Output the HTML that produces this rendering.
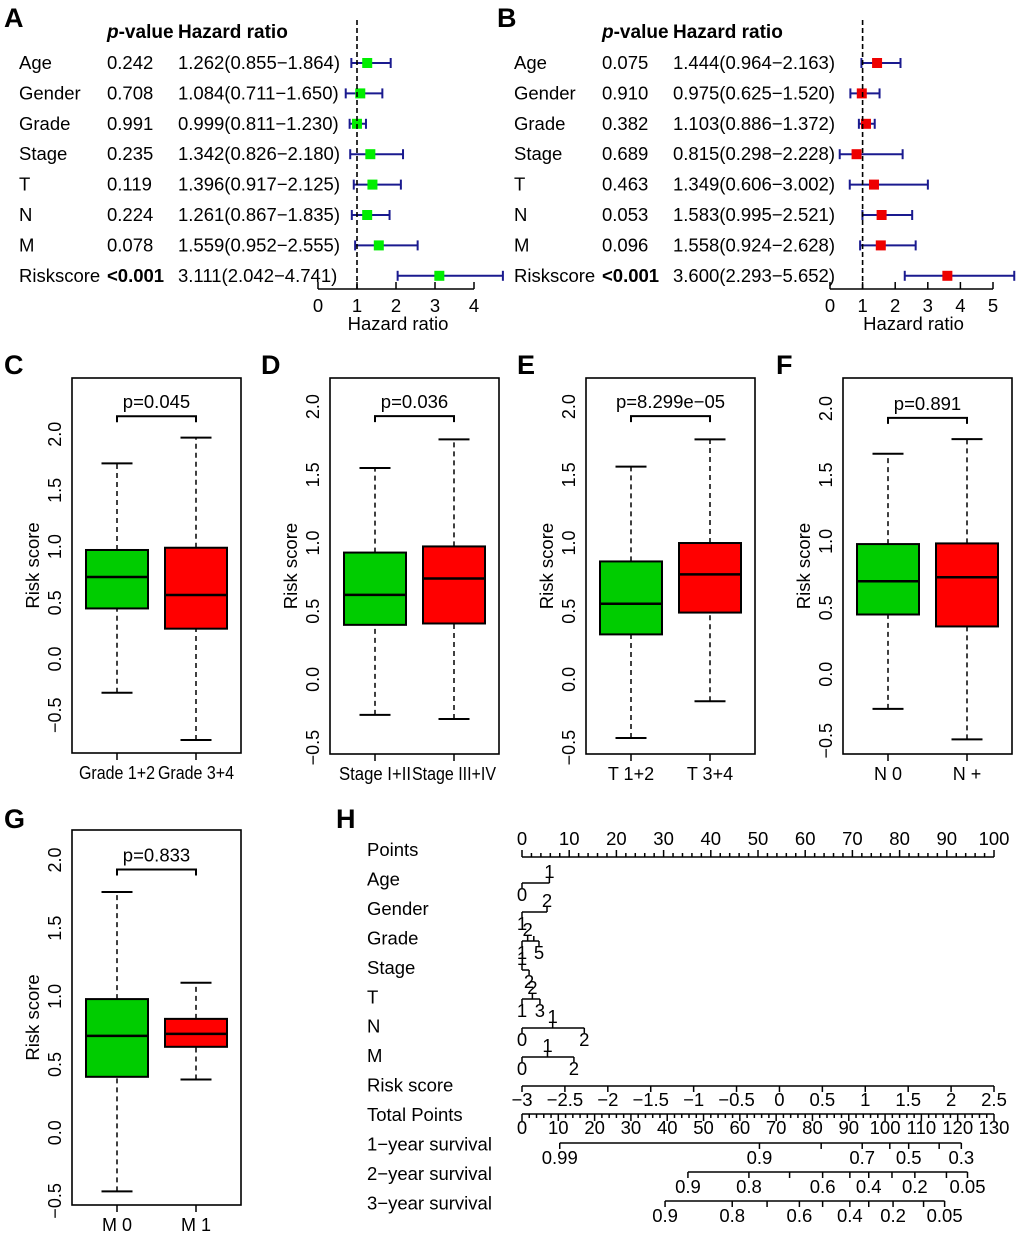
<!DOCTYPE html>
<html><head><meta charset="utf-8"><style>
html,body{margin:0;padding:0;background:#fff;}
svg{display:block;font-family:"Liberation Sans",Arial,sans-serif;}
</style></head><body>
<svg id="fig" width="1020" height="1239" viewBox="0 0 1020 1239" xmlns="http://www.w3.org/2000/svg"></svg>
<script>
// ---- Forest plot data ----
const forestVars = ["Age","Gender","Grade","Stage","T","N","M","Riskscore"];
const pA = ["0.242","0.708","0.991","0.235","0.119","0.224","0.078","<0.001"];
const hrA = [1.262,1.084,0.999,1.342,1.396,1.261,1.559,3.111];
const loA = [0.855,0.711,0.811,0.826,0.917,0.867,0.952,2.042];
const hiA = [1.864,1.650,1.230,2.180,2.125,1.835,2.555,4.741];
const pB = ["0.075","0.910","0.382","0.689","0.463","0.053","0.096","<0.001"];
const hrB = [1.444,0.975,1.103,0.815,1.349,1.583,1.558,3.600];
const loB = [0.964,0.625,0.886,0.298,0.606,0.995,0.924,2.293];
const hiB = [2.163,1.520,1.372,2.228,3.002,2.521,2.628,5.652];
const ticksA = [0,1,2,3,4];
const ticksB = [0,1,2,3,4,5];
// ---- Boxplot data: [whiskerLow, q1, median, q3, whiskerHigh] ----
const boxC = [[-0.30,0.45,0.73,0.97,1.74],[-0.72,0.27,0.57,0.99,1.97]];
const boxD = [[-0.26,0.40,0.62,0.93,1.55],[-0.29,0.41,0.74,0.975,1.76]];
const boxE = [[-0.43,0.33,0.555,0.865,1.56],[-0.16,0.49,0.77,1.00,1.76]];
const boxF = [[-0.26,0.45,0.70,0.98,1.66],[-0.49,0.36,0.73,0.985,1.77]];
const boxG = [[-0.43,0.41,0.71,0.98,1.765],[0.39,0.63,0.725,0.835,1.10]];
const boxTicks = [-0.5,0.0,0.5,1.0,1.5,2.0];
// ---- Nomogram data (positions in points / total points) ----
const pointTicks = [0,10,20,30,40,50,60,70,80,90,100];
const nomoVars = ["Age","Gender","Grade","Stage","T","N","M"];
const nomoPts = [[0,5.8],[0,5.3],[0,1.2,2.5,3.6],[0,1.5],[0,2.2,3.8],[0,6.5,13.2],[0,5.4,11]];
const nomoLbl = [["0","1"],["1","2"],["1","2","","5"],["1","2"],["1","2","3"],["0","1","2"],["0","1","2"]];
const nomoSide = [[1,-1],[1,-1],[1,-1,0,1],[-1,1],[1,-1,1],[1,-1,1],[1,-1,1]];
const riskTicks = [-3,-2.5,-2,-1.5,-1,-0.5,0,0.5,1,1.5,2,2.5];
const totalTicks = [0,10,20,30,40,50,60,70,80,90,100,110,120,130];
const surv1Pos = [10.4,65.4,82.4,93.7,101.3,106.5,114.9,121];
const surv1Lbl = ["0.99","0.9","","0.7","","0.5","","0.3"];
const surv2Pos = [45.7,62.5,73.7,82.8,90.3,95.5,101.9,108.2,116.9,122.7];
const surv2Lbl = ["0.9","0.8","","0.6","","0.4","","0.2","","0.05"];
const surv3Pos = [39.4,57.9,67.5,76.4,82.8,90.3,95.5,102.2,110.6,116.4];
const surv3Lbl = ["0.9","0.8","","0.6","","0.4","","0.2","","0.05"];

const svg = document.getElementById('fig');
const NS = 'http://www.w3.org/2000/svg';
const FS = 18.5;
function el(tag, attrs, parent){const e=document.createElementNS(NS,tag);for(const k in attrs)e.setAttribute(k,attrs[k]);(parent||svg).appendChild(e);return e;}
function txt(s,x,y,attrs,parent){const e=el('text',Object.assign({x:x,y:y,'font-size':FS,fill:'#000'},attrs||{}),parent);e.textContent=s;return e;}
function line(x1,y1,x2,y2,attrs,parent){return el('line',Object.assign({x1:x1,y1:y1,x2:x2,y2:y2,stroke:'#000','stroke-width':1.5},attrs||{}),parent);}

function panelLetter(s,x,y){const t=txt(s,x,y,{'font-size':27,'font-weight':'bold'});}

// ---- Forest ----
function forest(g,ox,pv,hr,lo,hi,ticks,x0,x1,color){
  const sx = v => x0 + v*(x1-x0);
  const rowY = i => 63 + i*30.4;
  const head = txt('',ox+107,38,{'font-weight':'bold','font-size':19},g);
  
  
  const ts=el('tspan',{'font-style':'italic'},head);ts.textContent='p';
  const ts2=el('tspan',{},head);ts2.textContent='-value';
  const h2=txt('Hazard ratio',ox+178,38,{'font-weight':'bold','font-size':19},g);
  
  
  for(let i=0;i<forestVars.length;i++){
    const y=rowY(i);
    const rg=el('g',{},g);
    
    
    txt(forestVars[i],ox+19,y+6,{},rg);
    txt(pv[i],ox+107,y+6,pv[i][0]==='<'?{'font-weight':'bold'}:{},rg);
    txt(hr[i].toFixed(3)+'('+lo[i].toFixed(3)+'\u2212'+hi[i].toFixed(3)+')',ox+178,y+6,{},rg);
    const c='#1a1a8f';
    line(sx(lo[i]),y,sx(hi[i]),y,{stroke:c,'stroke-width':2},rg);
    line(sx(lo[i]),y-5,sx(lo[i]),y+5,{stroke:c,'stroke-width':2},rg);
    line(sx(hi[i]),y-5,sx(hi[i]),y+5,{stroke:c,'stroke-width':2},rg);
    const sq=el('rect',{x:sx(hr[i])-5,y:y-5,width:10,height:10,fill:color},rg);
    
    
  }
  const ref=line(sx(1),20,sx(1),289,{'stroke-dasharray':'5,3','stroke-width':1.6},g);
  
  
  const ax=el('g',{},g);
  
  
  line(sx(ticks[0]),289,sx(ticks[ticks.length-1]),289,{},ax);
  ticks.forEach(t=>{line(sx(t),289,sx(t),282,{},ax);txt(String(t),sx(t),312,{'text-anchor':'middle'},ax);});
  const xt=txt('Hazard ratio',(sx(0)+sx(ticks[ticks.length-1]))/2+2,330,{'text-anchor':'middle'},g);
  
  
}
const gA=el('g',{});
forest(gA,0,pA,hrA,loA,hiA,ticksA,318,357,'#00ee00');
const gB=el('g',{});
forest(gB,495,pB,hrB,loB,hiB,ticksB,830,862.6,'#ee0000');
panelLetter('A',4,27);panelLetter('B',497,27);

// ---- Boxplots ----
function boxplot(name,fx0,fy0,fy1,yTop,yBot,data,cats,pLabel,bracket,catW){
  const g=el('g',{});
  
  
  const sy=v=>fy0+(yTop-v)/(yTop-yBot)*(fy1-fy0);
  const centers=[fx0+45,fx0+124];
  const cols=['#00cc00','#ff0000'];
  data.forEach((d,i)=>{
    const cx=centers[i];
    const bg=el('g',{},g);
    
    
    line(cx,sy(d[0]),cx,sy(d[1]),{'stroke-dasharray':'5,4'},bg);
    line(cx,sy(d[3]),cx,sy(d[4]),{'stroke-dasharray':'5,4'},bg);
    line(cx-15.5,sy(d[0]),cx+15.5,sy(d[0]),{'stroke-width':2},bg);
    line(cx-15.5,sy(d[4]),cx+15.5,sy(d[4]),{'stroke-width':2},bg);
    el('rect',{x:cx-31,y:sy(d[3]),width:62,height:sy(d[1])-sy(d[3]),fill:cols[i],stroke:'#000','stroke-width':2},bg);
    line(cx-31,sy(d[2]),cx+31,sy(d[2]),{'stroke-width':2.5},bg);
    line(cx,fy1,cx,fy1+7,{},bg);
    const la={'text-anchor':'middle','font-size':18};
    if(catW){la.textLength=catW[i];la.lengthAdjust='spacingAndGlyphs';}
    txt(cats[i],cx,fy1+26,la,bg);
  });
  const fr=el('rect',{x:fx0,y:fy0,width:169,height:fy1-fy0,fill:'none',stroke:'#000','stroke-width':1.6},g);
  
  
  const yg=el('g',{},g);
  
  
  boxTicks.forEach(t=>{const y=sy(t);txt(t.toFixed(1).replace('-','\u2212'),fx0-11,y,{'text-anchor':'middle','font-size':18,transform:`rotate(-90 ${fx0-11} ${y})`},yg);});
  const yt=txt('Risk score',fx0-33,(fy0+fy1)/2,{'text-anchor':'middle','font-size':18.5,transform:`rotate(-90 ${fx0-33} ${(fy0+fy1)/2})`},g);
  
  
  const by=sy(bracket);
  const br=el('path',{d:`M${centers[0]},${by+6}V${by}H${centers[1]}V${by+6}`,fill:'none',stroke:'#000','stroke-width':2},g);
  
  
  const pt=txt(pLabel,(centers[0]+centers[1])/2,by-8,{'text-anchor':'middle','font-size':18.5},g);
  
  
}
boxplot('boxplot-grade',72,378,753,2.5,-0.836,boxC,['Grade 1+2','Grade 3+4'],'p=0.045',2.16,[76,76]);
boxplot('boxplot-stage',330,378,754,2.21,-0.547,boxD,['Stage I+II','Stage III+IV'],'p=0.036',1.93,[72,84]);
boxplot('boxplot-t',586,378,754,2.21,-0.547,boxE,['T 1+2','T 3+4'],'p=8.299e\u221205',1.93,null);
boxplot('boxplot-n',843,378,754,2.23,-0.6,boxF,['N 0','N +'],'p=0.891',1.93,null);
boxplot('boxplot-m',72,830,1205,2.22,-0.53,boxG,['M 0','M 1'],'p=0.833',1.93,null);
panelLetter('C',4,374);panelLetter('D',261,374);panelLetter('E',517,374);panelLetter('F',776,374);panelLetter('G',4,828);panelLetter('H',336,828);

// ---- Nomogram ----
const NF = 18.5;
const gH=el('g',{});
const px=p=>522+p*4.72;
const tx=t=>522+t/130*472;
const rowLabels=["Points","Age","Gender","Grade","Stage","T","N","M","Risk score","Total Points","1\u2212year survival","2\u2212year survival","3\u2212year survival"];
rowLabels.forEach((s,i)=>{const t=txt(s,367,856+i*29.45,{'font-size':NF},gH);});
const pg=el('g',{},gH);
line(px(0),857,px(100),857,{},pg);
for(let p=0;p<=100;p+=2){line(px(p),857,px(p),p%10===0?850:853,{},pg);}
pointTicks.forEach(p=>txt(String(p),px(p),845,{'text-anchor':'middle','font-size':NF},pg));
const varY=[883,912,941,970,999,1028,1057];
nomoVars.forEach((v,i)=>{
  const g=el('g',{},gH);
  
  
  const y=varY[i];const pts=nomoPts[i];
  line(px(pts[0]),y,px(pts[pts.length-1]),y,{},g);
  pts.forEach((p,j)=>{
    const s=nomoSide[i][j];
    line(px(p),y,px(p),y+(s>0?5:-5),{},g);
    if(nomoLbl[i][j])txt(nomoLbl[i][j],px(p),s>0?y+18:y-5,{'text-anchor':'middle','font-size':NF},g);
  });
});
const rg=el('g',{},gH);
const rx=r=>px((r+3)/5.5*100);
line(rx(-3),1086,rx(2.5),1086,{},rg);
riskTicks.forEach(r=>{line(rx(r),1086,rx(r),1092,{},rg);txt(String(r).replace('-','\u2212'),rx(r),1106,{'text-anchor':'middle','font-size':NF},rg);});
const tg=el('g',{},gH);
line(tx(0),1114,tx(130),1114,{},tg);
for(let t=0;t<=130;t+=2){line(tx(t),1114,tx(t),t%10===0?1121:1118,{},tg);}
totalTicks.forEach(t=>txt(String(t),tx(t),1134,{'text-anchor':'middle','font-size':NF},tg));
function surv(name,y,pos,lbl){
  const g=el('g',{},gH);
  
  
  line(tx(pos[0]),y,tx(pos[pos.length-1]),y,{},g);
  pos.forEach((p,i)=>{line(tx(p),y,tx(p),y+6,{},g);if(lbl[i])txt(lbl[i],tx(p),y+21,{'text-anchor':'middle','font-size':NF},g);});
}
surv('survival-1-year-axis',1143,surv1Pos,surv1Lbl);
surv('survival-2-year-axis',1172,surv2Pos,surv2Lbl);
surv('survival-3-year-axis',1201,surv3Pos,surv3Lbl);
</script>
</body></html>
